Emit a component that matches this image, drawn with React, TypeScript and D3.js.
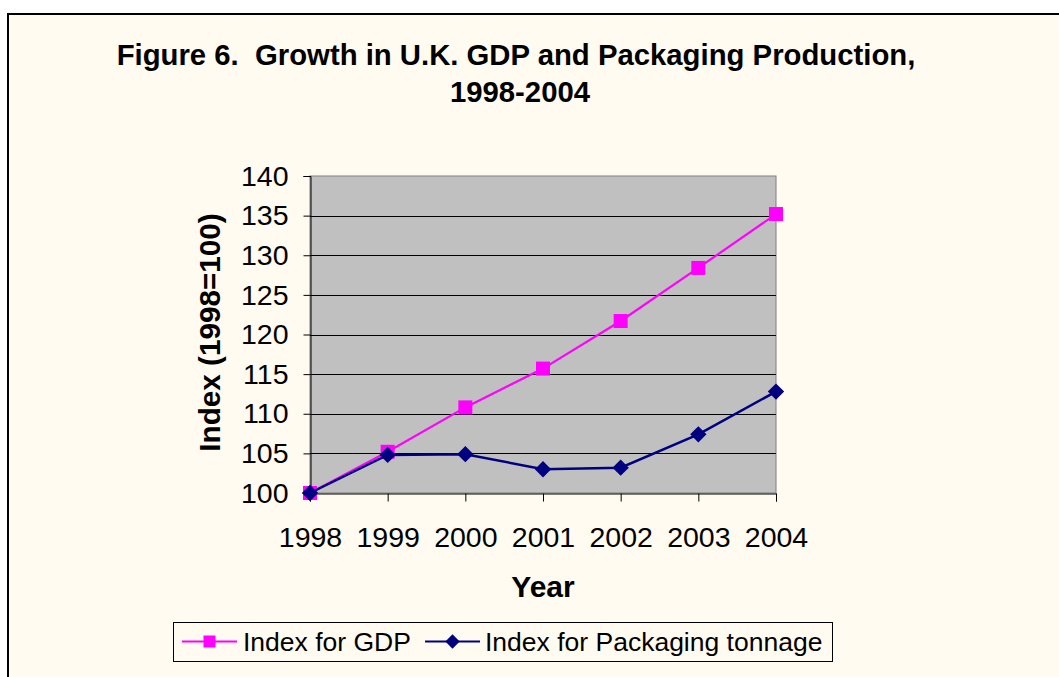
import React, { useEffect, useRef } from 'react';
import * as d3 from 'd3';

const years = ['1998', '1999', '2000', '2001', '2002', '2003', '2004'];
const gdpIndex = [100, 105.2, 110.8, 115.7, 121.7, 128.4, 135.2];
const packagingIndex = [100, 104.8, 104.9, 103.0, 103.2, 107.4, 112.8];
const yTicks = [100, 105, 110, 115, 120, 125, 130, 135, 140];

const WIDTH = 1059;
const HEIGHT = 677;
const FONT = '"Liberation Sans", Arial, sans-serif';
const CREAM = '#FFFBF0';
const MAGENTA = '#FF00FF';
const NAVY = '#000080';

const plot = { left: 310, right: 776, top: 176, bottom: 493 };

const App: React.FC = () => {
  const ref = useRef<SVGSVGElement>(null);

  useEffect(() => {
    const svg = d3.select(ref.current);
    svg.selectAll('*').remove();

    // page + chart frame
    svg.append('rect').attr('width', WIDTH).attr('height', HEIGHT).attr('fill', '#ffffff');
    svg
      .append('rect')
      .attr('x', 8)
      .attr('y', 14)
      .attr('width', WIDTH + 20)
      .attr('height', HEIGHT + 20)
      .attr('fill', CREAM)
      .attr('stroke', '#000')
      .attr('stroke-width', 2);

    const x = d3.scalePoint<string>().domain(years).range([plot.left, plot.right]);
    const y = d3.scaleLinear().domain([100, 140]).range([plot.bottom, plot.top]);

    // plot area
    svg
      .append('rect')
      .attr('x', plot.left)
      .attr('y', plot.top)
      .attr('width', plot.right - plot.left)
      .attr('height', plot.bottom - plot.top)
      .attr('fill', '#C0C0C0')
      .attr('stroke', '#808080')
      .attr('stroke-width', 1);

    // gridlines
    svg
      .append('g')
      .selectAll('line')
      .data(yTicks.slice(1, -1))
      .join('line')
      .attr('x1', plot.left)
      .attr('x2', plot.right)
      .attr('y1', (d) => Math.round(y(d)) + 0.5)
      .attr('y2', (d) => Math.round(y(d)) + 0.5)
      .attr('stroke', '#000')
      .attr('stroke-width', 1);

    // y axis
    const yAxis = svg
      .append('g')
      .attr('transform', `translate(${plot.left + 0.5},0)`)
      .call(d3.axisLeft(y).tickValues(yTicks).tickSize(7).tickPadding(15));
    yAxis.select('.domain').attr('stroke', '#000');
    yAxis.selectAll('.tick line').attr('stroke', '#000');
    yAxis
      .selectAll('.tick text')
      .attr('font-family', FONT)
      .attr('font-size', 28.5)
      .attr('fill', '#000');

    // x axis
    const xAxis = svg
      .append('g')
      .attr('transform', `translate(0,${plot.bottom + 0.5})`)
      .call(d3.axisBottom(x).tickSize(8).tickPadding(25));
    xAxis.select('.domain').attr('stroke', '#000');
    xAxis.selectAll('.tick line').attr('stroke', '#000');
    xAxis
      .selectAll('.tick text')
      .attr('font-family', FONT)
      .attr('font-size', 28.5)
      .attr('fill', '#000');

    const line = d3
      .line<number>()
      .x((_, i) => x(years[i]) as number)
      .y((d) => y(d));

    // GDP series
    svg
      .append('path')
      .datum(gdpIndex)
      .attr('fill', 'none')
      .attr('stroke', MAGENTA)
      .attr('stroke-width', 2.2)
      .attr('d', line);
    const sq = 14;
    svg
      .append('g')
      .selectAll('rect')
      .data(gdpIndex)
      .join('rect')
      .attr('x', (_, i) => (x(years[i]) as number) - sq / 2)
      .attr('y', (d) => y(d) - sq / 2)
      .attr('width', sq)
      .attr('height', sq)
      .attr('fill', MAGENTA);

    // packaging series
    svg
      .append('path')
      .datum(packagingIndex)
      .attr('fill', 'none')
      .attr('stroke', NAVY)
      .attr('stroke-width', 2.5)
      .attr('d', line);
    const diamond = d3.symbol().type(d3.symbolDiamond2).size(170);
    svg
      .append('g')
      .selectAll('path')
      .data(packagingIndex)
      .join('path')
      .attr('transform', (d, i) => `translate(${x(years[i])},${y(d)})`)
      .attr('d', diamond)
      .attr('fill', NAVY);

    // titles
    const title = svg
      .append('text')
      .attr('font-family', FONT)
      .attr('font-weight', 'bold')
      .attr('font-size', 29.3)
      .attr('text-anchor', 'middle')
      .style('white-space', 'pre');
    title.append('tspan').attr('x', 516).attr('y', 65).text('Figure 6.  Growth in U.K. GDP and Packaging Production,');
    title.append('tspan').attr('x', 520).attr('y', 102).text('1998-2004');

    svg
      .append('text')
      .attr('x', 543)
      .attr('y', 597)
      .attr('text-anchor', 'middle')
      .attr('font-family', FONT)
      .attr('font-weight', 'bold')
      .attr('font-size', 30)
      .text('Year');

    svg
      .append('text')
      .attr('transform', 'translate(220,332.5) rotate(-90)')
      .attr('text-anchor', 'middle')
      .attr('font-family', FONT)
      .attr('font-weight', 'bold')
      .attr('font-size', 29.7)
      .text('Index (1998=100)');

    // legend
    const legend = svg.append('g');
    legend
      .append('rect')
      .attr('x', 173.5)
      .attr('y', 622.5)
      .attr('width', 659)
      .attr('height', 39)
      .attr('fill', CREAM)
      .attr('stroke', '#000')
      .attr('stroke-width', 1);

    const items = [
      { label: 'Index for GDP', color: MAGENTA, x0: 182, tx: 243, kind: 'square' },
      { label: 'Index for Packaging tonnage', color: NAVY, x0: 425, tx: 485, kind: 'diamond' },
    ];
    items.forEach((it) => {
      const g = legend.append('g');
      g.append('line')
        .attr('x1', it.x0)
        .attr('x2', it.x0 + 55)
        .attr('y1', 641.5)
        .attr('y2', 641.5)
        .attr('stroke', it.color)
        .attr('stroke-width', 2.2);
      if (it.kind === 'square') {
        g.append('rect')
          .attr('x', it.x0 + 27.5 - 6)
          .attr('y', 641.5 - 6)
          .attr('width', 12)
          .attr('height', 12)
          .attr('fill', it.color);
      } else {
        g.append('path')
          .attr('transform', `translate(${it.x0 + 27.5},641.5)`)
          .attr('d', d3.symbol().type(d3.symbolDiamond2).size(130)())
          .attr('fill', it.color);
      }
      g.append('text')
        .attr('x', it.tx)
        .attr('y', 651)
        .attr('font-family', FONT)
        .attr('font-size', 26.5)
        .text(it.label);
    });
  }, []);

  return (
    <svg
      ref={ref}
      width={WIDTH}
      height={HEIGHT}
      style={{ position: 'absolute', left: 0, top: 0, display: 'block' }}
    />
  );
};

export default App;
